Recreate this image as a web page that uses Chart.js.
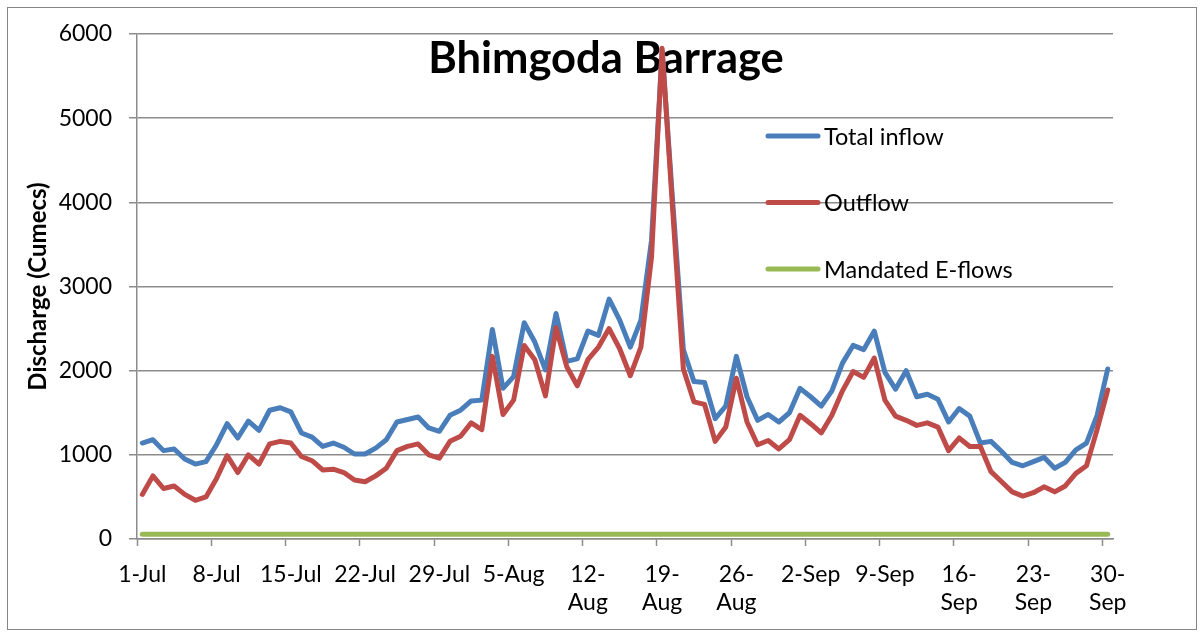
<!DOCTYPE html>
<html>
<head>
<meta charset="utf-8">
<script src="https://cdn.jsdelivr.net/npm/chart.js@4.4.1/dist/chart.umd.min.js"></script>
<style>
    body { margin: 0; background: #fff; }
</style>
</head>
<body>
<canvas id="myChart" width="1204" height="637"></canvas>
<script>
const days = [
    '1-Jul', '2-Jul', '3-Jul', '4-Jul', '5-Jul', '6-Jul', '7-Jul', '8-Jul', '9-Jul', '10-Jul',
    '11-Jul', '12-Jul', '13-Jul', '14-Jul', '15-Jul', '16-Jul', '17-Jul', '18-Jul', '19-Jul', '20-Jul',
    '21-Jul', '22-Jul', '23-Jul', '24-Jul', '25-Jul', '26-Jul', '27-Jul', '28-Jul', '29-Jul', '30-Jul',
    '31-Jul', '1-Aug', '2-Aug', '3-Aug', '4-Aug', '5-Aug', '6-Aug', '7-Aug', '8-Aug', '9-Aug',
    '10-Aug', '11-Aug', '12-Aug', '13-Aug', '14-Aug', '15-Aug', '16-Aug', '17-Aug', '18-Aug', '19-Aug',
    '20-Aug', '21-Aug', '22-Aug', '23-Aug', '24-Aug', '25-Aug', '26-Aug', '27-Aug', '28-Aug', '29-Aug',
    '30-Aug', '31-Aug', '1-Sep', '2-Sep', '3-Sep', '4-Sep', '5-Sep', '6-Sep', '7-Sep', '8-Sep',
    '9-Sep', '10-Sep', '11-Sep', '12-Sep', '13-Sep', '14-Sep', '15-Sep', '16-Sep', '17-Sep', '18-Sep',
    '19-Sep', '20-Sep', '21-Sep', '22-Sep', '23-Sep', '24-Sep', '25-Sep', '26-Sep', '27-Sep', '28-Sep',
    '29-Sep', '30-Sep'
];

// labels shown every 7 days
const tickLabels = [
    '1-Jul', '8-Jul', '15-Jul', '22-Jul', '29-Jul', '5-Aug',
    ['12-', 'Aug'], ['19-', 'Aug'], ['26-', 'Aug'],
    '2-Sep', '9-Sep', ['16-', 'Sep'], ['23-', 'Sep'], ['30-', 'Sep']
];

const totalInflow = [
    1140, 1180, 1050, 1070, 950, 890, 920, 1120, 1370, 1200,
    1400, 1290, 1530, 1560, 1510, 1260, 1210, 1100, 1140, 1090,
    1010, 1010, 1080, 1180, 1390, 1420, 1450, 1320, 1280, 1470,
    1530, 1640, 1650, 2490, 1790, 1930, 2570, 2340, 2010, 2680,
    2110, 2140, 2470, 2420, 2850, 2600, 2280, 2600, 3550, 5800,
    4000, 2250, 1870, 1860, 1430, 1580, 2170, 1690, 1410, 1480,
    1390, 1500, 1790, 1690, 1580, 1760, 2090, 2300, 2250, 2470,
    1980, 1780, 2000, 1690, 1720, 1660, 1390, 1550, 1460, 1140,
    1160, 1040, 910, 870, 920, 970, 840, 910, 1060, 1140,
    1470, 2020
];

const outflow = [
    530, 750, 600, 630, 530, 460, 500, 720, 990, 790,
    1000, 890, 1130, 1160, 1140, 980, 930, 820, 830, 790,
    700, 680, 750, 840, 1050, 1100, 1130, 1000, 960, 1160,
    1220, 1380, 1300, 2170, 1480, 1650, 2300, 2130, 1700, 2510,
    2050, 1820, 2130, 2280, 2500, 2260, 1940, 2280, 3350, 5830,
    3900, 2020, 1630, 1600, 1160, 1330, 1910, 1390, 1120, 1170,
    1070, 1180, 1470, 1370, 1260, 1470, 1760, 1990, 1920, 2150,
    1650, 1460, 1410, 1350, 1380, 1330, 1050, 1200, 1100, 1100,
    800, 680, 560, 510, 550, 620, 560, 630, 780, 870,
    1300, 1770
];

const mandatedEflows = [
    55, 55, 55, 55, 55, 55, 55, 55, 55, 55,
    55, 55, 55, 55, 55, 55, 55, 55, 55, 55,
    55, 55, 55, 55, 55, 55, 55, 55, 55, 55,
    55, 55, 55, 55, 55, 55, 55, 55, 55, 55,
    55, 55, 55, 55, 55, 55, 55, 55, 55, 55,
    55, 55, 55, 55, 55, 55, 55, 55, 55, 55,
    55, 55, 55, 55, 55, 55, 55, 55, 55, 55,
    55, 55, 55, 55, 55, 55, 55, 55, 55, 55,
    55, 55, 55, 55, 55, 55, 55, 55, 55, 55,
    55, 55
];

const gridGray = '#8c8c8c';
const fontFamily = 'Lato';

// title, in-plot legend and outer frame
const chartDecor = {
    id: 'chartDecor',
    beforeDraw(chart) {
        const ctx = chart.ctx;
        ctx.save();
        ctx.fillStyle = '#fff';
        ctx.fillRect(0, 0, chart.width, chart.height);
        ctx.strokeStyle = '#868686';
        ctx.lineWidth = 1;
        ctx.strokeRect(7.5, 7.5, chart.width - 15, chart.height - 15);
        ctx.restore();
    },
    beforeDatasetsDraw(chart) {
        const ctx = chart.ctx;
        ctx.save();
        ctx.font = 'bold 43.5px ' + fontFamily;
        ctx.fillStyle = '#000';
        ctx.textAlign = 'center';
        ctx.textBaseline = 'alphabetic';
        ctx.fillText('Bhimgoda Barrage', 606, 73);
        ctx.restore();
    },
    afterDatasetsDraw(chart) {
        const ctx = chart.ctx;
        ctx.save();
        chart.data.datasets.forEach((ds, i) => {
            const y = 136 + i * 66.5;
            ctx.strokeStyle = ds.borderColor;
            ctx.lineWidth = 5;
            ctx.lineCap = 'round';
            ctx.beginPath();
            ctx.moveTo(768, y);
            ctx.lineTo(818, y);
            ctx.stroke();
            ctx.fillStyle = '#000';
            ctx.font = '23.5px ' + fontFamily;
            ctx.textAlign = 'left';
            ctx.textBaseline = 'middle';
            ctx.fillText(ds.label, 824, y + 1);
        });
        ctx.restore();
    }
};

const ctx = document.querySelector('#myChart');

chart = new Chart(ctx, {
    type: 'line',
    data: {
        labels: days,
        datasets: [
            {
                label: 'Total inflow',
                data: totalInflow,
                borderColor: '#4A7EBB',
                order: 3,
            },
            {
                label: 'Outflow',
                data: outflow,
                borderColor: '#BE4B48',
                order: 2,
            },
            {
                label: 'Mandated E-flows',
                data: mandatedEflows,
                borderColor: '#98B954',
                order: 1,
            },
        ],
    },
    options: {
        responsive: false,
        animation: false,
        devicePixelRatio: 1,
        layout: {
            padding: { left: 0, right: 91, top: 34, bottom: 0 }
        },
        elements: {
            point: { radius: 0 },
            line: {
                borderWidth: 5,
                tension: 0,
                borderJoinStyle: 'round',
                borderCapStyle: 'round',
            }
        },
        plugins: {
            legend: { display: false },
            title: { display: false },
            tooltip: { enabled: false }
        },
        scales: {
            x: {
                type: 'category',
                offset: true,
                grid: {
                    offset: true,
                    drawOnChartArea: false,
                    drawTicks: true,
                    tickLength: 7,
                    tickWidth: 1.5,
                    tickColor: (c) => (c.index !== undefined && c.index % 7 === 0) ? gridGray : 'rgba(0,0,0,0)',
                },
                border: { color: gridGray, width: 1.5 },
                ticks: {
                    autoSkip: false,
                    maxRotation: 0,
                    minRotation: 0,
                    padding: 15,
                    color: '#000',
                    font: { family: fontFamily, size: 23, lineHeight: 1.2 },
                    callback: (value, index) => index % 7 === 0 ? tickLabels[index / 7] : '',
                },
                afterFit: (scale) => { scale.height = 98; }
            },
            y: {
                min: 0,
                max: 6000,
                ticks: {
                    stepSize: 1000,
                    padding: 17,
                    color: '#000',
                    font: { family: fontFamily, size: 23 },
                    callback: (value) => String(value),
                },
                grid: {
                    color: gridGray,
                    lineWidth: 1.5,
                    tickLength: 8,
                },
                border: { color: gridGray, width: 1.5 },
                title: {
                    display: true,
                    text: 'Discharge (Cumecs)',
                    color: '#000',
                    font: { family: fontFamily, size: 24, weight: 'bold' },
                    padding: { top: 24, bottom: 0 },
                },
                afterFit: (scale) => { scale.width = 137; }
            }
        }
    },
    plugins: [chartDecor]
});
</script>
</body>
</html>
